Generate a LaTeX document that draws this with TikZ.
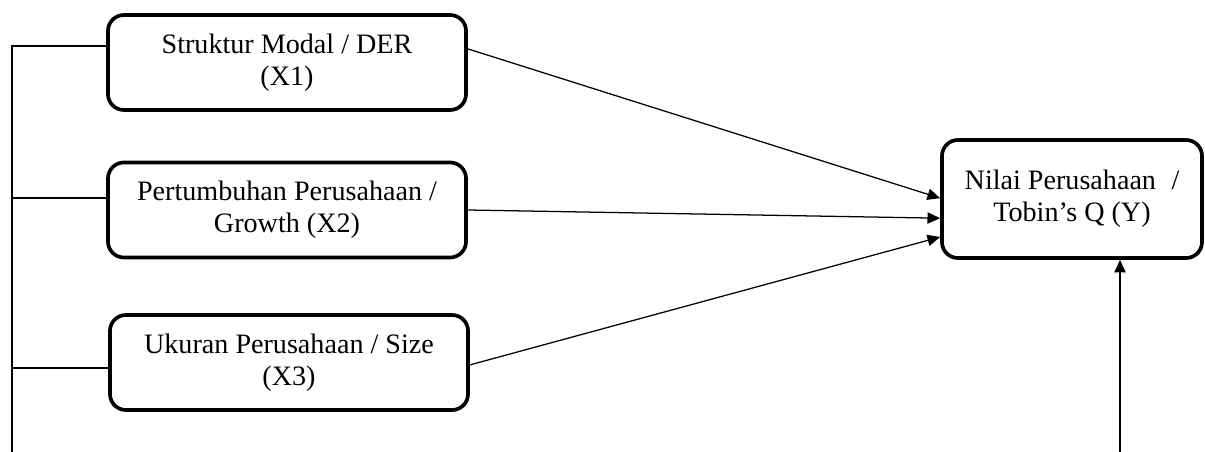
\documentclass[tikz,border=0pt]{standalone}
\usepackage{fontspec}
\setmainfont{Liberation Serif}
\usepackage{tikz}
\usetikzlibrary{arrows.meta}

\tikzset{
    varbox/.style={draw, rounded corners=0.4cm, line width=2.6pt, align=center,
        minimum width=8.95cm, minimum height=2.375cm, font=\fontsize{20}{22.5}\selectfont},
    link/.style={line width=0.9pt},
}

\begin{document}
\begin{tikzpicture}[x=0.025cm, y=-0.025cm]
    \useasboundingbox (0,0) rectangle (1205,452);
    \node[varbox] (dervar) at (287,62.5) {Struktur Modal / DER\\(X1)};
    \node[varbox] (growthvar) at (287,210) {Pertumbuhan Perusahaan /\\Growth (X2)};
    \node[varbox] (sizevar) at (289,362.5) {Ukuran Perusahaan / Size\\(X3)};
    \node[varbox, minimum width=6.5cm, minimum height=2.95cm] (tobinq) at (1072,199) {Nilai Perusahaan\hspace{0.3em} /\\Tobin’s Q (Y)};
    \coordinate (leftend) at (12,452);
    \coordinate (bottomend) at (1120,452);
    % left bracket
    \draw[link] ([yshift=0.41cm]dervar.west) -| (leftend);
    \draw[link] ([yshift=0.3cm]growthvar.west) -- ([yshift=0.3cm]growthvar.west -| leftend);
    \draw[link] ([yshift=-0.14cm]sizevar.west) -- ([yshift=-0.14cm]sizevar.west -| leftend);
    % arrows into Y
    \draw[link, -{Triangle[length=9pt,width=8pt]}] ([yshift=0.34cm]dervar.east) -- ([yshift=0.02cm]tobinq.west);
    \draw[link, -{Triangle[length=9pt,width=8pt]}] (growthvar.east) -- ([yshift=-0.48cm]tobinq.west);
    \draw[link, -{Triangle[length=9pt,width=8pt]}] ([yshift=-0.06cm]sizevar.east) -- ([yshift=-0.95cm]tobinq.west);
    \draw[link, -{Triangle[length=9pt,width=8pt]}] (bottomend) -- (bottomend |- tobinq.south);
\end{tikzpicture}
\end{document}
